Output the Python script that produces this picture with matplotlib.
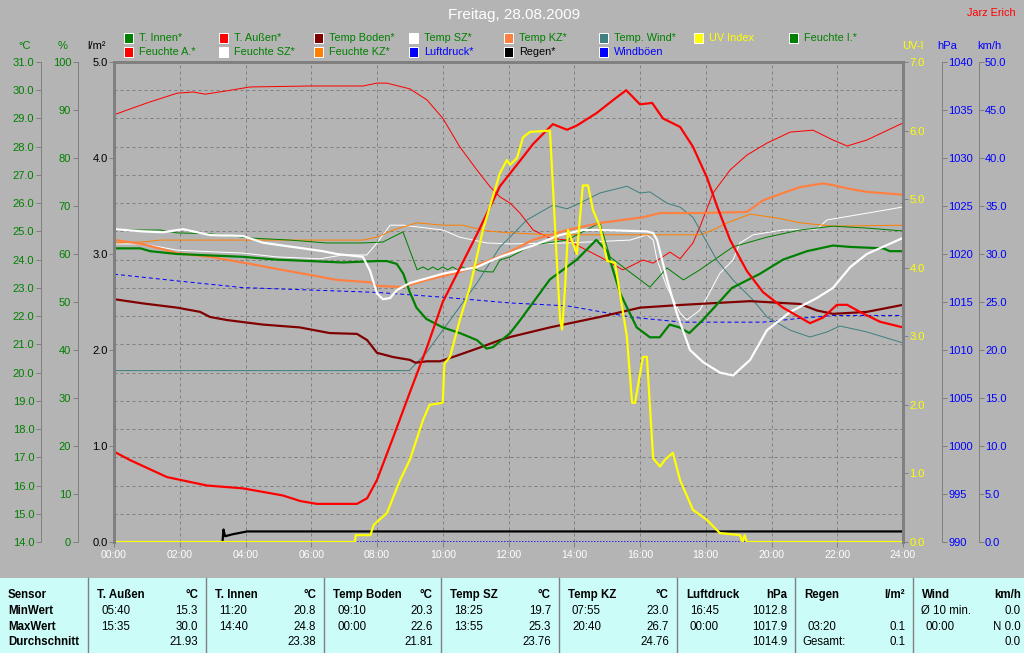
import matplotlib

matplotlib.use("Agg")
import matplotlib.pyplot as plt
from matplotlib.patches import Rectangle
from matplotlib.lines import Line2D

# ---- chart data (hours, native units) ----
T_AUSSEN_H = [0, 0.49, 1.61, 2.83, 3.92, 5.13, 5.67, 6.17, 7.39, 7.7, 8.0, 8.49, 9.0, 9.52, 10.0,
              10.52, 11.04, 11.74, 12.35, 12.75, 13.35, 13.78, 14.08, 14.69, 15.18, 15.58, 16.0,
              16.37, 16.7, 17.22, 17.61, 18.04, 18.34, 18.74, 19.25, 19.74, 20.35, 21.17, 21.57,
              21.99, 22.3, 22.69, 23.3, 24]
T_AUSSEN = [17.2, 16.9, 16.3, 16.0, 15.9, 15.65, 15.45, 15.35, 15.35, 15.55, 16.2, 17.7, 19.3, 20.9,
            22.5, 23.7, 24.9, 26.6, 27.5, 28.1, 28.8, 28.6, 28.75, 29.2, 29.65, 30.0, 29.5, 29.55,
            29.0, 28.7, 28.0, 26.9, 25.9, 24.7, 23.6, 22.85, 22.3, 21.75, 21.95, 22.4, 22.4, 22.15,
            21.8, 21.6]

T_INNEN_H = [0, 0.8, 1.1, 1.92, 2.92, 3.92, 4.95, 5.95, 6.95, 8.0, 8.3, 8.6, 8.8, 8.98, 9.2, 9.5,
             10.0, 10.52, 11.04, 11.33, 11.53, 12.05, 12.35, 13.26, 14.08, 14.67, 15.0, 15.4, 15.9,
             16.3, 16.6, 16.9, 17.2, 17.5, 17.9, 18.8, 19.65, 20.35, 21.08, 21.87, 22.4, 23.4, 23.6, 24]
T_INNEN = [24.4, 24.4, 24.3, 24.2, 24.15, 24.1, 24.0, 23.95, 23.9, 23.95, 23.95, 23.85, 23.5, 22.9,
           22.3, 21.9, 21.6, 21.4, 21.15, 20.85, 20.9, 21.4, 21.85, 23.3, 24.0, 24.7, 24.3, 22.8,
           21.6, 21.25, 21.25, 21.7, 21.6, 21.4, 21.85, 23.0, 23.5, 24.0, 24.3, 24.5, 24.45, 24.4,
           24.3, 24.3]

T_BODEN_H = [0, 0.88, 1.92, 2.62, 2.92, 3.44, 4.53, 5.65, 6.56, 7.39, 7.7, 8.0, 8.49, 9.0, 9.17,
             9.52, 9.92, 10.43, 11.04, 11.74, 12.05, 13.26, 14.78, 16.0, 17.3, 19.35, 20.87, 21.38,
             21.87, 22.9, 24]
T_BODEN = [22.6, 22.45, 22.3, 22.15, 21.97, 21.86, 21.7, 21.6, 21.4, 21.37, 21.15, 20.7, 20.55,
           20.45, 20.35, 20.4, 20.4, 20.6, 20.85, 21.15, 21.26, 21.6, 21.97, 22.3, 22.4, 22.53,
           22.43, 22.2, 22.08, 22.15, 22.4]

T_SZ_H = [0, 0.88, 1.49, 2.1, 2.92, 3.92, 4.53, 5.44, 6.35, 6.78, 7.57, 7.79, 8.0, 8.18, 8.4, 8.61,
          9.0, 10.0, 11.04, 11.74, 12.75, 13.56, 14.26, 14.78, 16.21, 16.4, 16.52, 16.82, 17.12,
          17.52, 17.92, 18.43, 18.83, 19.35, 19.86, 20.57, 21.38, 21.87, 22.4, 22.9, 24]
T_SZ = [25.08, 25.0, 24.97, 25.08, 24.87, 24.84, 24.6, 24.45, 24.3, 24.2, 24.1, 23.6, 22.8, 22.6,
        22.64, 22.93, 23.17, 23.5, 23.74, 24.1, 24.5, 24.87, 25.05, 25.05, 25.0, 24.94, 24.7, 23.3,
        22.1, 20.8, 20.37, 20.0, 19.9, 20.45, 21.5, 22.15, 22.64, 23.0, 23.74, 24.2, 24.77]

T_KZ_H = [0, 0.88, 1.92, 2.92, 4.14, 4.96, 5.96, 6.78, 7.79, 8.0, 8.79, 9.52, 10.52, 11.9, 12.75,
          13.78, 14.78, 16.09, 16.61, 17.82, 19.25, 19.74, 20.35, 20.87, 21.57, 21.87, 22.4, 22.9, 24]
T_KZ = [24.7, 24.55, 24.23, 24.1, 23.85, 23.67, 23.46, 23.28, 23.2, 23.07, 23.03, 23.28, 23.56,
        24.2, 24.7, 25.05, 25.3, 25.5, 25.65, 25.65, 25.69, 26.1, 26.36, 26.57, 26.7, 26.64, 26.5,
        26.4, 26.3]

T_WIND_H = [0, 8.98, 9.5, 10.0, 11.04, 11.74, 12.05, 12.55, 13.35, 13.78, 14.17, 14.78, 15.6, 16.0,
            16.3, 16.82, 17.22, 17.61, 18.04, 18.34, 18.83, 19.44, 19.86, 20.57, 21.17, 21.69,
            22.08, 22.9, 24]
T_WIND = [20.07, 20.07, 20.7, 21.5, 23.17, 24.45, 24.8, 25.4, 25.93, 25.8, 26.0, 26.36, 26.6, 26.36,
          26.4, 26.0, 25.86, 25.5, 24.6, 23.98, 23.28, 22.57, 21.97, 21.5, 21.26, 21.44, 21.65,
          21.44, 21.05]

F_AUSSEN_H = [0, 0.4, 1.1, 1.92, 2.41, 2.77, 3.44, 4.14, 5.96, 7.57, 8.0, 8.3, 9.0, 9.52, 10.0,
              10.52, 11.04, 11.44, 11.74, 12.05, 12.35, 12.75, 13.26, 13.78, 14.38, 14.78, 15.48,
              15.78, 16.09, 16.4, 16.91, 17.22, 17.61, 17.82, 18.22, 18.74, 19.25, 19.86, 20.57,
              21.26, 21.87, 22.3, 22.9, 24]
F_AUSSEN = [89.0, 90.0, 91.7, 93.5, 93.75, 93.3, 94.0, 94.8, 95.0, 95.0, 95.6, 95.6, 94.4, 92.1,
            88.3, 82.3, 77.5, 74.0, 71.9, 70.6, 68.5, 65.0, 63.3, 62.9, 60.8, 59.4, 56.7, 57.7,
            58.75, 58.1, 60.4, 59.0, 62.3, 65.6, 72.7, 77.5, 80.6, 83.1, 85.4, 85.8, 83.75, 82.5,
            83.75, 87.3]

F_SZ_H = [0, 0.88, 1.92, 3.22, 3.92, 4.95, 6.26, 6.96, 7.69, 8.0, 8.4, 8.79, 10.0, 10.52, 11.34,
          12.05, 13.78, 15.7, 16.21, 16.4, 16.52, 16.82, 17.22, 17.43, 17.82, 18.04, 18.43, 18.83,
          19.04, 19.44, 20.35, 21.38, 21.69, 22.9, 24]
F_SZ = [62.1, 62.1, 60.8, 60.4, 60.2, 59.4, 59.0, 59.8, 59.8, 62.3, 66.0, 66.0, 65.0, 63.5, 62.3,
        62.1, 62.3, 62.9, 64.0, 62.9, 58.75, 53.1, 47.7, 46.25, 48.3, 51.0, 56.0, 58.75, 62.3,
        64.0, 65.0, 65.2, 67.1, 68.5, 69.8]

F_KZ_H = [0, 0.88, 1.4, 7.57, 8.0, 8.49, 9.22, 10.0, 10.6, 11.34, 12.05, 13.26, 17.82, 18.22, 18.65,
          19.35, 20.17, 20.87, 21.87, 24]
F_KZ = [62.3, 62.5, 62.9, 62.9, 63.5, 65.0, 66.5, 66.0, 66.0, 64.8, 64.4, 64.0, 64.0, 65.0, 66.5,
        68.3, 67.5, 66.5, 65.8, 66.0]

F_INNEN_H = [0, 1.4, 1.92, 2.92, 4.23, 5.35, 6.47, 7.57, 8.18, 8.79, 9.22, 9.4, 9.55, 9.7, 9.85,
             10.0, 10.15, 10.3, 10.45, 10.6, 10.75, 10.9, 11.1, 11.34, 11.53, 11.74, 12.05, 12.75,
             13.78, 14.78, 15.09, 15.6, 16.3, 16.82, 17.32, 17.82, 18.83, 19.86, 20.87, 21.87,
             22.9, 24]
F_INNEN = [65.0, 65.0, 64.4, 64.2, 63.3, 62.9, 62.3, 62.3, 62.5, 64.6, 56.7, 57.3, 56.7, 57.3, 56.7,
           57.3, 56.7, 57.3, 56.7, 57.3, 56.7, 57.1, 56.5, 56.3, 56.25, 58.75, 59.4, 61.9, 62.9,
           66.5, 59.4, 56.7, 53.1, 57.1, 54.6, 56.7, 61.5, 63.5, 65.0, 65.8, 65.4, 64.8]

LUFTDRUCK_H = [0, 1.92, 3.92, 5.96, 8.0, 10.0, 12.05, 13.78, 15.78, 17.3, 19.74, 20.87, 21.87, 24]
LUFTDRUCK = [1017.9, 1017.2, 1016.5, 1016.25, 1016.0, 1015.5, 1014.9, 1014.6, 1013.4, 1012.9,
             1012.9, 1013.3, 1013.6, 1013.6]

UV_H = [0, 7.33, 7.35, 7.8, 7.9, 8.3, 8.7, 9.0, 9.4, 9.6, 10.0, 10.05, 10.22, 10.52, 10.83, 11.22,
        11.74, 11.95, 12.05, 12.26, 12.44, 12.65, 13.26, 13.32, 13.47, 13.57, 13.63, 13.72, 13.81,
        14.08, 14.26, 14.42, 14.57, 14.78, 14.87, 15.0, 15.24, 15.6, 15.76, 15.85, 16.09, 16.21,
        16.4, 16.61, 16.76, 17.0, 17.22, 17.61, 18.04, 18.43, 19.04, 19.12, 19.18, 19.25, 24]
UV = [0, 0, 0.1, 0.1, 0.25, 0.42, 0.9, 1.2, 1.78, 2.0, 2.03, 2.6, 2.7, 3.24, 3.72, 4.55, 5.38, 5.57,
      5.5, 5.6, 5.9, 5.98, 6.0, 5.47, 4.1, 3.24, 3.1, 3.7, 4.55, 4.2, 5.2, 5.2, 4.84, 4.6, 4.4, 4.1,
      4.07, 3.0, 2.03, 2.03, 2.7, 2.7, 1.22, 1.1, 1.2, 1.3, 0.9, 0.47, 0.32, 0.13, 0.1, 0.0, 0.1,
      0, 0]

REGEN_H = [3.3, 3.33, 3.38, 3.6, 4.05, 24]
REGEN = [0, 0.13, 0.06, 0.08, 0.11, 0.11]

WINDBOEN_H = [0, 24]
WINDBOEN = [0, 0]

# ---- axis ticks ----
DEGC_TICKS = [14 + i for i in range(18)]
PCT_TICKS = list(range(0, 101, 10))
RAIN_TICKS = [0, 1, 2, 3, 4, 5]
UV_TICKS = [0, 1, 2, 3, 4, 5, 6, 7]
HPA_TICKS = list(range(990, 1041, 5))
KMH_TICKS = list(range(0, 51, 5))
HOUR_TICKS = list(range(0, 25, 2))

# ---- legend ----
LEGEND_ROW1 = ["T. Innen*", "T. Außen*", "Temp Boden*", "Temp SZ*", "Temp KZ*", "Temp. Wind*",
               "UV Index", "Feuchte I.*"]
LEGEND_ROW2 = ["Feuchte A.*", "Feuchte SZ*", "Feuchte KZ*", "Luftdruck*", "Regen*", "Windböen"]

# ---- table ----
TABLE_SENSORS = ["T. Außen", "T. Innen", "Temp Boden", "Temp SZ", "Temp KZ", "Luftdruck", "Regen", "Wind"]
TABLE_UNITS = ["°C", "°C", "°C", "°C", "°C", "hPa", "l/m²", "km/h"]
MIN_TIMES = ["05:40", "11:20", "09:10", "18:25", "07:55", "16:45", "", ""]
MIN_VALUES = ["15.3", "20.8", "20.3", "19.7", "23.0", "1012.8", "", "0.0"]
MAX_TIMES = ["15:35", "14:40", "00:00", "13:55", "20:40", "00:00", "03:20", "00:00"]
MAX_VALUES = ["30.0", "24.8", "22.6", "25.3", "26.7", "1017.9", "0.1", "N 0.0"]
AVG_VALUES = ["21.93", "23.38", "21.81", "23.76", "24.76", "1014.9", "0.1", "0.0"]
ROW_NAMES = ["Sensor", "MinWert", "MaxWert", "Durchschnitt"]

# ---- styling ----
W, H = 1024, 653
BG = "#b4b4b4"
GRIDC = "#808080"
CYAN = "#ccfcf8"
GREEN = "#008000"
RED = "#ff0000"
DRED = "#800000"
CORAL = "#ff8040"
ORANGE = "#ff8000"
TEAL = "#408080"
YELLOW = "#ffff00"
BLUE = "#0000ff"
FONT = "Liberation Sans"
PX = 0.72  # one pixel in points
THICK = 2.2 * PX
THIN = 1.0 * PX
TABLE_FS = 8.3

L, R, T, B = 114, 903, 62, 542
RECT = [L / W, 1 - B / H, (R - L) / W, (B - T) / H]

plt.rcParams["font.family"] = FONT


def fx(px):
    return px / W


def fy(py):
    return 1 - py / H


fig = plt.figure(figsize=(W / 100, H / 100), dpi=100, facecolor=BG)

base = fig.add_axes(RECT, facecolor=BG)
base.set_xlim(0, 24)
base.set_ylim(14, 31)
base.set_xticks(HOUR_TICKS)
base.set_xticklabels([f"{h:02d}:00" for h in HOUR_TICKS], color="white", fontsize=7.6)
base.set_yticks(DEGC_TICKS[1:-1])
base.tick_params(axis="y", length=0, labelleft=False)
base.tick_params(axis="x", length=5 * PX, width=PX, color=GRIDC, pad=2)
base.grid(True, color=GRIDC, linestyle=(0, (3, 3)), linewidth=PX)
for s in base.spines.values():
    s.set_visible(False)


def scale_axis(lo, hi, side, offset_px, ticks, labels, color, name):
    ax = fig.add_axes(RECT, facecolor="none", label=name)
    ax.set_xlim(0, 24)
    ax.xaxis.set_visible(False)
    for s in ax.spines.values():
        s.set_visible(False)
    ax.yaxis.set_ticks_position(side)
    if offset_px:
        sp = ax.spines[side]
        sp.set_visible(True)
        sp.set_position(("outward", offset_px * PX))
        sp.set_color(GRIDC)
        sp.set_linewidth(PX)
    ax.set_yticks(ticks)
    ax.set_yticklabels(labels)
    ax.set_ylim(lo, hi)
    ax.tick_params(axis="y", color=GRIDC, labelcolor=color, length=5 * PX, width=PX,
                   pad=1, labelsize=8)
    return ax


ax_pct = scale_axis(0, 100, "left", 36.5, PCT_TICKS, [str(v) for v in PCT_TICKS], GREEN, "pct")
ax_hpa = scale_axis(990, 1040, "right", 38.7, HPA_TICKS, [str(v) for v in HPA_TICKS], BLUE, "hpa")
ax_kmh = scale_axis(0, 50, "right", 75.7, KMH_TICKS, [f"{v:.1f}" for v in KMH_TICKS], BLUE, "kmh")
ax_c = scale_axis(14, 31, "left", 73.3, DEGC_TICKS, [f"{v:.1f}" for v in DEGC_TICKS], GREEN, "degc")
ax_rain = scale_axis(0, 5, "left", 0, RAIN_TICKS, [f"{v:.1f}" for v in RAIN_TICKS], "black", "rain")
ax_uv = scale_axis(0, 7, "right", 0, UV_TICKS, [f"{v:.1f}" for v in UV_TICKS], YELLOW, "uv")

# humidity (thin)
ax_pct.plot(F_AUSSEN_H, F_AUSSEN, color=RED, lw=THIN)
ax_pct.plot(F_SZ_H, F_SZ, color="white", lw=THIN)
ax_pct.plot(F_KZ_H, F_KZ, color=ORANGE, lw=THIN)
ax_pct.plot(F_INNEN_H, F_INNEN, color=GREEN, lw=THIN)
# pressure / gusts
ax_hpa.plot(LUFTDRUCK_H, LUFTDRUCK, color=BLUE, lw=THIN, linestyle=(0, (4, 3)))
ax_kmh.plot(WINDBOEN_H, WINDBOEN, color=BLUE, lw=THIN * 1.5, linestyle=(0, (1, 1)))
# temperatures
ax_c.plot(T_WIND_H, T_WIND, color=TEAL, lw=THIN)
ax_c.plot(T_BODEN_H, T_BODEN, color=DRED, lw=THICK)
ax_c.plot(T_KZ_H, T_KZ, color=CORAL, lw=THICK)
ax_c.plot(T_INNEN_H, T_INNEN, color=GREEN, lw=THICK)
ax_c.plot(T_SZ_H, T_SZ, color="white", lw=THICK)
ax_c.plot(T_AUSSEN_H, T_AUSSEN, color=RED, lw=THICK)
# rain, uv
ax_rain.plot(REGEN_H, REGEN, color="black", lw=THICK)
ax_uv.plot(UV_H, UV, color=YELLOW, lw=THICK)

frame = fig.add_axes(RECT, facecolor="none", label="frame")
frame.set_xticks([])
frame.set_yticks([])
for side in ("left", "top", "right"):
    frame.spines[side].set_color(GRIDC)
    frame.spines[side].set_linewidth(3 * PX)
frame.spines["bottom"].set_visible(False)

# unit labels
for x, txt, col in [(25, "°C", GREEN), (63, "%", GREEN), (96, "l/m²", "black"),
                    (913, "UV-I", YELLOW), (947, "hPa", BLUE), (989, "km/h", BLUE)]:
    fig.text(fx(x), fy(46), txt, color=col, fontsize=8, ha="center", va="center")

fig.text(fx(514), fy(15), "Freitag, 28.08.2009", color="white", fontsize=11, ha="center", va="center")
fig.text(fx(1016), fy(13), "Jarz Erich", color=RED, fontsize=7.8, ha="right", va="center")

# legend
row1_sq = [GREEN, RED, DRED, "white", CORAL, TEAL, YELLOW, GREEN]
row1_tc = [GREEN] * 6 + [YELLOW, GREEN]
row2_sq = [RED, "white", ORANGE, BLUE, "black", BLUE]
row2_tc = [GREEN, GREEN, GREEN, BLUE, "black", BLUE]
for y, names, sqs, tcs in [(38, LEGEND_ROW1, row1_sq, row1_tc), (52, LEGEND_ROW2, row2_sq, row2_tc)]:
    for i, (name, sq, tc) in enumerate(zip(names, sqs, tcs)):
        x0 = 124 + 95 * i
        fig.patches.append(Rectangle((fx(x0), fy(y + 5)), 9 / W, 10 / H, transform=fig.transFigure,
                                     facecolor=sq, edgecolor="white", linewidth=PX))
        fig.text(fx(x0 + 15), fy(y), name, color=tc, fontsize=7.8, ha="left", va="center")

# statistics table
fig.patches.append(Rectangle((0, 0), 1, fy(578), transform=fig.transFigure,
                             facecolor=CYAN, edgecolor="none"))
col_left = [88, 206, 324, 441, 559, 677, 795, 913]
col_right = col_left[1:] + [1024]
row_y = [595, 611, 627, 642]
for x in col_left:
    fig.add_artist(Line2D([fx(x), fx(x)], [fy(578), 0], transform=fig.transFigure,
                          color=GRIDC, linewidth=1.4 * PX))
for name, y in zip(ROW_NAMES, row_y):
    fig.text(fx(8), fy(y), name, fontsize=TABLE_FS, fontweight="bold", ha="left", va="center")

for i, sensor in enumerate(TABLE_SENSORS):
    xl = col_left[i]
    xr = col_right[i] - (3 if i == len(TABLE_SENSORS) - 1 else 8)
    fig.text(fx(xl + 9), fy(row_y[0]), sensor, fontsize=TABLE_FS, fontweight="bold", ha="left", va="center")
    fig.text(fx(xr), fy(row_y[0]), TABLE_UNITS[i], fontsize=TABLE_FS, fontweight="bold", ha="right", va="center")
    fig.text(fx(xl + 13), fy(row_y[1]), MIN_TIMES[i], fontsize=TABLE_FS, ha="left", va="center")
    fig.text(fx(xr), fy(row_y[1]), MIN_VALUES[i], fontsize=TABLE_FS, ha="right", va="center")
    fig.text(fx(xl + 13), fy(row_y[2]), MAX_TIMES[i], fontsize=TABLE_FS, ha="left", va="center")
    fig.text(fx(xr), fy(row_y[2]), MAX_VALUES[i], fontsize=TABLE_FS, ha="right", va="center")
    fig.text(fx(xr), fy(row_y[3]), AVG_VALUES[i], fontsize=TABLE_FS, ha="right", va="center")

fig.text(fx(921), fy(row_y[1]), "Ø 10 min.", fontsize=TABLE_FS, ha="left", va="center")
fig.text(fx(802), fy(row_y[3]), "Gesamt:", fontsize=TABLE_FS, ha="left", va="center")

fig.savefig("out.png", dpi=100, facecolor=BG)
